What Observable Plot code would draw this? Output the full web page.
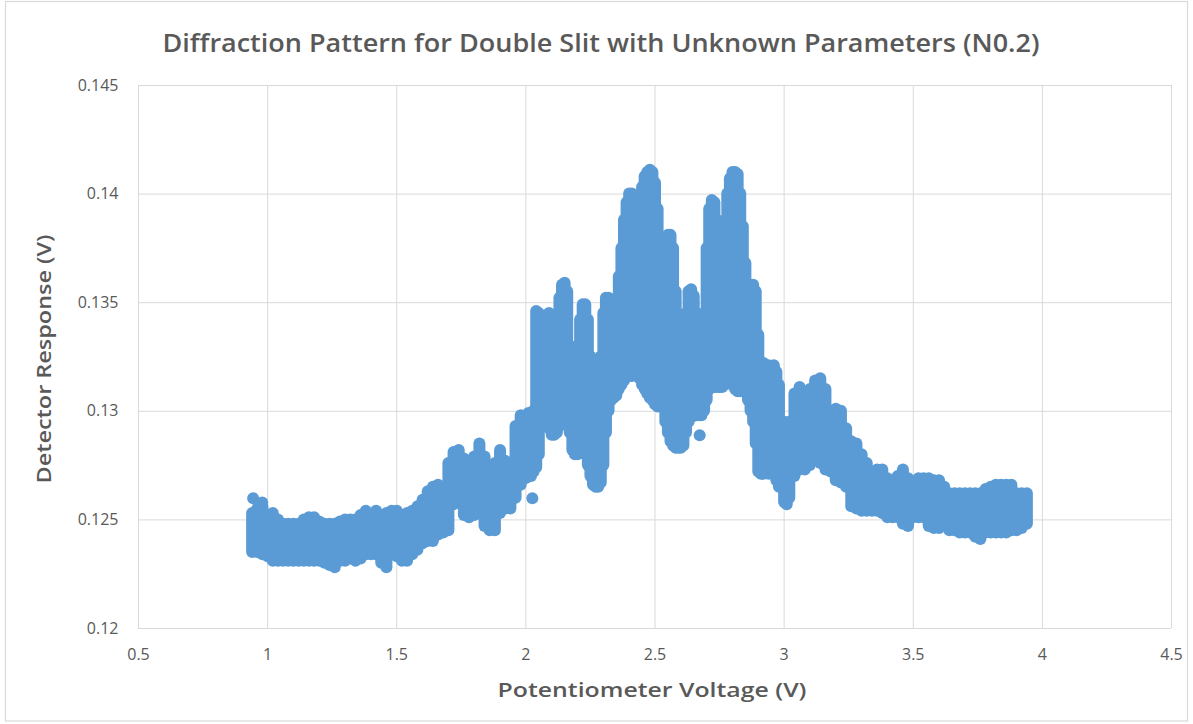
<!DOCTYPE html>
<html><head><meta charset="utf-8">
<script src="https://cdn.jsdelivr.net/npm/d3@7"></script>
<script src="https://cdn.jsdelivr.net/npm/@observablehq/plot@0.6"></script>
<style>
body{margin:0;background:#fff;}
#wrap{position:relative;width:1193px;height:724px;overflow:hidden;background:#fff;}
#wrap > svg{position:absolute;left:0;top:0;}
</style></head><body><div id="wrap"></div>
<script>
// Potentiometer voltage (V) sampled along the scan, with the lowest and highest detector response (V) seen there
const voltage = [0.94,0.96,0.98,1.00,1.02,1.04,1.06,1.08,1.10,1.12,1.14,1.16,1.18,1.20,1.22,1.24,1.26,1.28,1.30,1.32,1.34,1.36,1.38,1.40,1.42,1.44,1.46,1.48,1.50,1.52,1.54,1.56,1.58,1.60,1.62,1.64,1.66,1.68,1.70,1.72,1.74,1.76,1.78,1.80,1.82,1.84,1.86,1.88,1.90,1.92,1.94,1.96,1.98,2.00,2.01,2.02,2.03,2.04,2.05,2.06,2.07,2.08,2.09,2.10,2.11,2.12,2.13,2.14,2.15,2.16,2.17,2.18,2.19,2.20,2.21,2.22,2.23,2.24,2.25,2.26,2.27,2.28,2.29,2.30,2.31,2.32,2.33,2.34,2.35,2.36,2.37,2.38,2.39,2.40,2.41,2.42,2.43,2.44,2.45,2.46,2.47,2.48,2.49,2.50,2.51,2.52,2.53,2.54,2.55,2.56,2.57,2.58,2.59,2.60,2.61,2.62,2.63,2.64,2.65,2.66,2.67,2.68,2.69,2.70,2.71,2.72,2.73,2.74,2.75,2.76,2.77,2.78,2.79,2.80,2.81,2.82,2.83,2.84,2.85,2.86,2.87,2.88,2.89,2.90,2.91,2.92,2.94,2.96,2.97,2.98,3.00,3.01,3.02,3.04,3.06,3.08,3.10,3.12,3.14,3.16,3.18,3.20,3.22,3.24,3.26,3.28,3.30,3.32,3.34,3.36,3.38,3.40,3.42,3.44,3.46,3.48,3.50,3.52,3.54,3.56,3.58,3.60,3.62,3.64,3.66,3.68,3.70,3.72,3.74,3.76,3.78,3.80,3.82,3.84,3.86,3.88,3.90,3.92,3.94];
const respLow = [0.1235,0.1235,0.1234,0.1233,0.1231,0.1231,0.1231,0.1231,0.1231,0.1231,0.1231,0.1231,0.1231,0.1231,0.1230,0.1229,0.1228,0.1231,0.1231,0.1232,0.1231,0.1232,0.1234,0.1234,0.1234,0.1230,0.1228,0.1234,0.1233,0.1231,0.1231,0.1234,0.1236,0.1239,0.1240,0.1240,0.1243,0.1244,0.1245,0.1257,0.1258,0.1252,0.1251,0.1252,0.1253,0.1247,0.1245,0.1245,0.1253,0.1255,0.1255,0.1260,0.1266,0.1269,0.1270,0.1270,0.1272,0.1274,0.1280,0.1300,0.1302,0.1298,0.1292,0.1289,0.1289,0.1290,0.1293,0.1298,0.1300,0.1297,0.1290,0.1282,0.1280,0.1280,0.1282,0.1284,0.1280,0.1275,0.1270,0.1266,0.1265,0.1265,0.1267,0.1275,0.1290,0.1300,0.1305,0.1306,0.1307,0.1310,0.1312,0.1314,0.1316,0.1316,0.1316,0.1317,0.1317,0.1315,0.1312,0.1310,0.1308,0.1306,0.1305,0.1303,0.1302,0.1302,0.1302,0.1295,0.1290,0.1286,0.1284,0.1283,0.1283,0.1283,0.1284,0.1290,0.1295,0.1297,0.1298,0.1298,0.1298,0.1298,0.1300,0.1305,0.1310,0.1311,0.1311,0.1311,0.1311,0.1311,0.1312,0.1316,0.1316,0.1312,0.1310,0.1309,0.1309,0.1309,0.1309,0.1305,0.1300,0.1295,0.1285,0.1272,0.1271,0.1271,0.1271,0.1271,0.1268,0.1265,0.1258,0.1257,0.1260,0.1270,0.1273,0.1273,0.1275,0.1280,0.1276,0.1273,0.1272,0.1268,0.1267,0.1265,0.1256,0.1255,0.1254,0.1254,0.1254,0.1254,0.1253,0.1251,0.1251,0.1251,0.1248,0.1247,0.1251,0.1251,0.1251,0.1247,0.1246,0.1246,0.1248,0.1245,0.1245,0.1244,0.1244,0.1244,0.1242,0.1241,0.1244,0.1244,0.1244,0.1244,0.1244,0.1245,0.1245,0.1246,0.1248];
const respHigh = [0.1253,0.1255,0.1256,0.1252,0.1253,0.1250,0.1248,0.1248,0.1248,0.1248,0.1250,0.1251,0.1251,0.1249,0.1248,0.1248,0.1248,0.1249,0.1250,0.1250,0.1250,0.1252,0.1254,0.1252,0.1254,0.1250,0.1253,0.1254,0.1254,0.1252,0.1253,0.1254,0.1256,0.1259,0.1263,0.1265,0.1266,0.1265,0.1276,0.1281,0.1282,0.1278,0.1273,0.1279,0.1285,0.1279,0.1271,0.1276,0.1282,0.1277,0.1273,0.1293,0.1298,0.1298,0.1299,0.1299,0.1300,0.1346,0.1345,0.1343,0.1343,0.1344,0.1345,0.1343,0.1340,0.1338,0.1352,0.1358,0.1359,0.1355,0.1330,0.1320,0.1322,0.1330,0.1342,0.1349,0.1349,0.1342,0.1325,0.1310,0.1305,0.1310,0.1325,0.1345,0.1352,0.1352,0.1350,0.1345,0.1350,0.1362,0.1375,0.1388,0.1396,0.1400,0.1400,0.1394,0.1391,0.1395,0.1403,0.1408,0.1410,0.1411,0.1410,0.1405,0.1393,0.1380,0.1378,0.1379,0.1381,0.1381,0.1375,0.1355,0.1335,0.1326,0.1328,0.1345,0.1355,0.1356,0.1353,0.1345,0.1335,0.1334,0.1345,0.1375,0.1393,0.1397,0.1396,0.1388,0.1375,0.1373,0.1385,0.1400,0.1407,0.1410,0.1410,0.1409,0.1400,0.1385,0.1368,0.1358,0.1358,0.1358,0.1355,0.1335,0.1322,0.1322,0.1321,0.1321,0.1318,0.1312,0.1295,0.1290,0.1295,0.1308,0.1311,0.1306,0.1310,0.1314,0.1315,0.1310,0.1300,0.1301,0.1300,0.1292,0.1286,0.1285,0.1280,0.1276,0.1271,0.1273,0.1273,0.1269,0.1267,0.1270,0.1273,0.1269,0.1267,0.1269,0.1269,0.1269,0.1268,0.1268,0.1265,0.1262,0.1262,0.1262,0.1262,0.1262,0.1262,0.1262,0.1264,0.1265,0.1266,0.1266,0.1266,0.1266,0.1262,0.1262,0.1262];
// isolated readings
const outlierVoltage = [0.944, 0.979, 2.025, 2.673];
const outlierResp = [0.1260, 0.1258, 0.1260, 0.1289];

const xTicks = [0.5, 1, 1.5, 2, 2.5, 3, 3.5, 4, 4.5];
const xTickLabels = ["0.5", "1", "1.5", "2", "2.5", "3", "3.5", "4", "4.5"];
const yTicks = [0.12, 0.125, 0.13, 0.135, 0.14, 0.145];
const yTickLabels = ["0.12", "0.125", "0.13", "0.135", "0.14", "0.145"];

const titleText = "Diffraction  Pattern for Double Slit with Unknown Parameters (N0.2)";
const xTitle = "Potentiometer Voltage (V)";
const yTitle = "Detector Response (V)";

const bands = voltage.map((v, i) => ({v, lo: respLow[i], hi: respHigh[i]}));
const outliers = outlierVoltage.map((v, i) => ({v, r: outlierResp[i]}));
const blue = "#5b9bd5";
const grid = "#d9d9d9";
const labelOf = (ticks, labels) => d => labels[ticks.findIndex(t => Math.abs(t - d) < 1e-9)];

const chart = Plot.plot({
  width: 1193, height: 724,
  marginLeft: 138, marginRight: 22, marginTop: 85, marginBottom: 96,
  style: {fontFamily: "'Open Sans', sans-serif", fontSize: "16px", color: "#595959", background: "transparent"},
  x: {domain: [0.5, 4.5], ticks: xTicks, tickSize: 0, tickPadding: 20, tickFormat: labelOf(xTicks, xTickLabels), label: null},
  y: {domain: [0.12, 0.145], ticks: yTicks, tickSize: 0, tickPadding: 20, tickFormat: labelOf(yTicks, yTickLabels), label: null},
  marks: [
    Plot.ruleX(xTicks, {stroke: grid, strokeWidth: 1}),
    Plot.ruleY(yTicks, {stroke: grid, strokeWidth: 1}),
    Plot.ruleX(bands, {x: "v", y1: "lo", y2: "hi", stroke: blue, strokeWidth: 12, strokeLinecap: "round"}),
    Plot.dot(outliers, {x: "v", y: "r", r: 6, fill: blue})
  ]
});
const wrap = document.getElementById("wrap");
wrap.appendChild(chart);

// frame, title and axis titles
const ov = d3.select(wrap).append("svg").attr("width", 1193).attr("height", 724).style("pointer-events", "none");
ov.append("rect").attr("x", 5.5).attr("y", 1.5).attr("width", 1182).attr("height", 719.5)
  .attr("fill", "none").attr("stroke", grid).attr("stroke-width", 1.2);
ov.append("text").text(titleText).attr("x", 601).attr("y", 52).attr("text-anchor", "middle")
  .attr("font-family", "'Open Sans', sans-serif").attr("font-weight", 600).attr("font-size", 26)
  .attr("fill", "#595959").attr("textLength", 877).attr("lengthAdjust", "spacingAndGlyphs");
ov.append("text").text(xTitle).attr("x", 652).attr("y", 697).attr("text-anchor", "middle")
  .attr("font-family", "'Open Sans', sans-serif").attr("font-weight", 600).attr("font-size", 20)
  .attr("fill", "#595959").attr("textLength", 309).attr("lengthAdjust", "spacingAndGlyphs");
ov.append("text").text(yTitle).attr("transform", "translate(51,359) rotate(-90)").attr("text-anchor", "middle")
  .attr("font-family", "'Open Sans', sans-serif").attr("font-weight", 600).attr("font-size", 20)
  .attr("fill", "#595959").attr("textLength", 249).attr("lengthAdjust", "spacingAndGlyphs");
</script></body></html>
